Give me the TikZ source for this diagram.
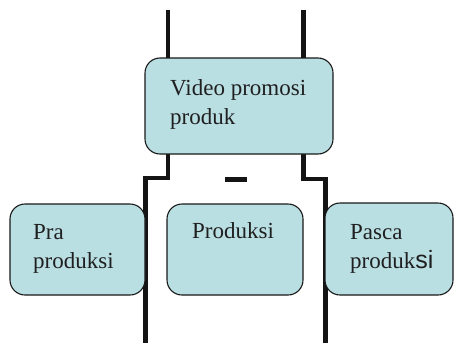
\documentclass[tikz,border=0pt]{standalone}
\usepackage{fontspec}
\setmainfont{Liberation Serif}
\setsansfont{Liberation Sans}
\begin{document}
\begin{tikzpicture}[x=1pt,y=-1pt,
  stagebox/.style={draw=black!90,line width=1.1pt,fill=boxfill,rounded corners=15pt},
  frame/.style={line width=4.6pt,draw=black!92},
  label/.style={anchor=base west,inner sep=0pt,text=black!88,font=\fontsize{23}{29}\selectfont,align=left}]
\definecolor{boxfill}{HTML}{BADFE3}
\useasboundingbox (0,0) rectangle (454,345);

% frame lines running behind the boxes
\coordinate (tl) at (168,10);
\coordinate (tr) at (303.5,10);
\coordinate (bl) at (145.5,343);
\coordinate (br) at (325.5,343);
\draw[frame] (tl) -- (168,58);
\draw[frame] (tr) -- (303.5,58);
\draw[frame,line join=miter] (168,154) -- (168,178) -- (145.5,178) -- (bl);
\draw[frame,line join=miter] (303.5,154) -- (303.5,179) -- (325.5,179) -- (br);
\draw[line width=5pt,draw=black!92] (225,179.5) coordinate (dl) -- (247,179.5) coordinate (dr);

% boxes (the base anchor of a two-line label sits on its last line)
\path[stagebox] (145,58) rectangle (333,154);
\node[label] (top) at (170,124) {Video promosi\\produk};
\path[stagebox] (10,204) rectangle (145,295);
\node[label] (pra) at (33,268) {Pra\\produksi};
\path[stagebox] (167,204) rectangle (303,295);
\node[label] (prod) at (192,238) {Produksi};
\path[stagebox] (325,203) rectangle (453,295);
\node[label] (pasca) at (350,268) {Pasca\\produk{\sffamily\fontsize{25}{29}\selectfont si}};
\end{tikzpicture}
\end{document}
